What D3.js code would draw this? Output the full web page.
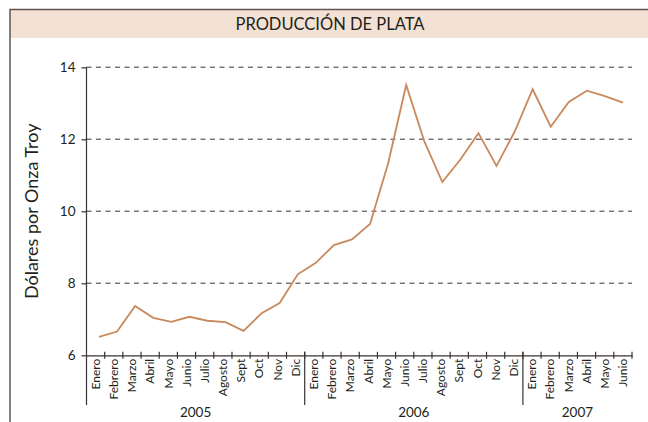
<!DOCTYPE html>
<html>
<head>
<meta charset="utf-8">
<script src="https://cdn.jsdelivr.net/npm/d3@7"></script>
<style>
  html, body { margin: 0; padding: 0; background: #fff; }
  svg { display: block; font-family: Lato, "Open Sans", sans-serif; }
</style>
</head>
<body>
<svg id="chart" width="648" height="422"></svg>
<script>
// chart data
const title = "PRODUCCIÓN DE PLATA";
const yLabel = "Dólares por Onza Troy";
const years = ["2005", "2006", "2007"];
const monthsPerYear = [12, 12, 6];
const monthNames = ["Enero", "Febrero", "Marzo", "Abril", "Mayo", "Junio", "Julio", "Agosto", "Sept", "Oct", "Nov", "Dic"];
const prices = [
  6.51, 6.66, 7.37, 7.04, 6.93, 7.07, 6.96, 6.92, 6.68, 7.17, 7.45, 8.25,
  8.57, 9.06, 9.22, 9.65, 11.33, 13.51, 11.95, 10.81, 11.44, 12.17, 11.26, 12.21,
  13.39, 12.35, 13.04, 13.35, 13.2, 13.02
];
const yTicks = [6, 8, 10, 12, 14];

// one entry per month
const months = [];
years.forEach((yr, i) => {
  for (let m = 0; m < monthsPerYear[i]; m++) {
    months.push({ key: yr + "-" + m, year: yr, label: monthNames[m], first: m === 0 });
  }
});
months.forEach((d, i) => d.value = prices[i]);

const svg = d3.select("#chart");

const plotLeft = 86.5, plotRight = 632, plotTop = 67.3, plotBottom = 355.3;

const x = d3.scaleBand()
  .domain(months.map(d => d.key))
  .range([plotLeft, plotRight])
  .padding(0);

// the line in the original sits slightly off the band centres
const xLine = d3.scalePoint()
  .domain(months.map(d => d.key))
  .range([99, 623]);

const y = d3.scaleLinear()
  .domain([6, 14])
  .range([plotBottom, plotTop]);

// frame + title band
svg.append("rect")
  .attr("x", 10).attr("y", 9.5)
  .attr("width", 640).attr("height", 28.5)
  .attr("fill", "#f3e1d3");

svg.append("path")
  .attr("d", "M10,422V9.5H648")
  .attr("fill", "none")
  .attr("stroke", "#5f5552")
  .attr("stroke-width", 1.5);

svg.append("text")
  .attr("x", 330).attr("y", 24)
  .attr("dy", "0.35em")
  .attr("text-anchor", "middle")
  .attr("font-size", 16.5)
  .attr("fill", "#231f20")
  .text(title);

// grid lines
svg.append("g")
  .selectAll("line")
  .data(yTicks.filter(t => t > 6))
  .join("line")
  .attr("x1", plotLeft).attr("x2", plotRight)
  .attr("y1", d => y(d)).attr("y2", d => y(d))
  .attr("stroke", "#7d7673")
  .attr("stroke-width", 1.6)
  .attr("stroke-dasharray", "5,4.5");

// y axis
const yAxis = svg.append("g")
  .attr("transform", `translate(${plotLeft},0)`)
  .call(d3.axisLeft(y).tickValues(yTicks).tickSize(5).tickPadding(6).tickFormat(d3.format("d")));
yAxis.select(".domain").remove();
yAxis.selectAll("line").attr("stroke", "#3a3331").attr("stroke-width", 1.2);
yAxis.selectAll("text")
  .attr("font-size", 13.5)
  .attr("font-family", "Lato, sans-serif")
  .attr("fill", "#231f20");

svg.append("line")
  .attr("x1", plotLeft).attr("x2", plotLeft)
  .attr("y1", plotTop).attr("y2", 405)
  .attr("stroke", "#3a3331").attr("stroke-width", 1.2);

svg.append("text")
  .attr("transform", `translate(32,${(plotTop + plotBottom) / 2}) rotate(-90)`)
  .attr("text-anchor", "middle")
  .attr("dy", "0.35em")
  .attr("font-size", 18)
  .attr("fill", "#231f20")
  .text(yLabel);

// x axis: labels at band centres, ticks at band edges
const xAxis = svg.append("g")
  .attr("transform", `translate(0,${plotBottom})`)
  .call(d3.axisBottom(x).tickSize(0).tickFormat(k => months.find(d => d.key === k).label));
xAxis.select(".domain").attr("stroke", "#3a3331").attr("stroke-width", 1.2);
xAxis.selectAll("text")
  .attr("font-size", 12)
  .attr("font-family", "Lato, sans-serif")
  .attr("fill", "#231f20")
  .attr("text-anchor", "end")
  .attr("transform", "rotate(-90)")
  .attr("x", -3.5)
  .attr("y", 0)
  .attr("dy", "0.35em");

const edges = months.map(d => x(d.key)).concat([plotRight]);
svg.append("g")
  .selectAll("line")
  .data(edges.slice(1))
  .join("line")
  .attr("x1", d => d).attr("x2", d => d)
  .attr("y1", plotBottom - 3.5).attr("y2", plotBottom + 3.5)
  .attr("stroke", "#3a3331").attr("stroke-width", 1.2);

// year separators and labels
const yearStarts = months.filter(d => d.first);
svg.append("g")
  .selectAll("line")
  .data(yearStarts.slice(1))
  .join("line")
  .attr("x1", d => x(d.key)).attr("x2", d => x(d.key))
  .attr("y1", plotBottom - 3.5).attr("y2", 405)
  .attr("stroke", "#3a3331").attr("stroke-width", 1.2);

svg.append("g")
  .selectAll("text")
  .data(years)
  .join("text")
  .attr("x", yr => {
    const ms = months.filter(d => d.year === yr);
    return (x(ms[0].key) + x(ms[ms.length - 1].key) + x.bandwidth()) / 2;
  })
  .attr("y", 412)
  .attr("dy", "0.35em")
  .attr("text-anchor", "middle")
  .attr("font-size", 13.5)
  .attr("fill", "#231f20")
  .text(d => d);

// price line
const line = d3.line()
  .x(d => xLine(d.key))
  .y(d => y(d.value));

svg.append("path")
  .datum(months)
  .attr("d", line)
  .attr("fill", "none")
  .attr("stroke", "#c8895c")
  .attr("stroke-width", 1.8)
  .attr("stroke-linejoin", "miter");
</script>
</body>
</html>
